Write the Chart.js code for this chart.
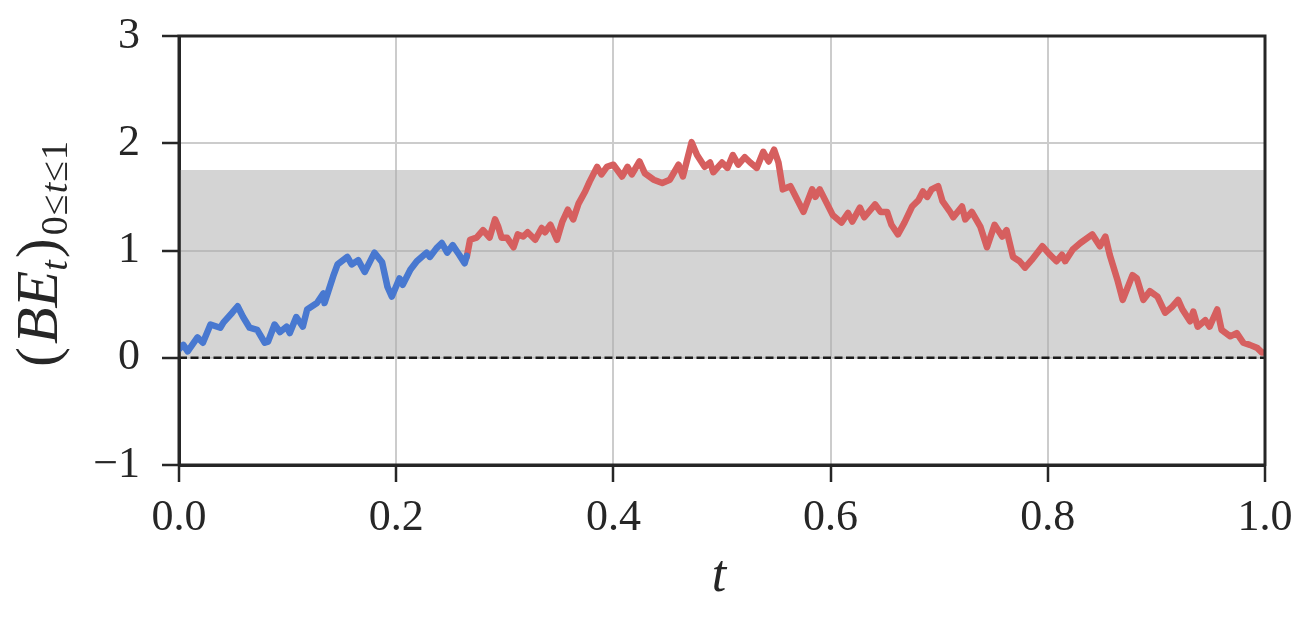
<!DOCTYPE html>
<html>
<head>
<meta charset="utf-8">
<script src="https://cdn.jsdelivr.net/npm/chart.js@4.4.0/dist/chart.umd.min.js"></script>
<style>
  html, body { margin: 0; padding: 0; background: #fff; }
  #wrap { width: 1311px; height: 622px; }
</style>
</head>
<body>
<div id="wrap"><canvas id="chart" width="1311" height="622"></canvas></div>
<script>
// trecho azul do caminho (t, valor)
const tBlue = [0.000, 0.004, 0.008, 0.017, 0.022, 0.029, 0.038, 0.041, 0.049, 0.054, 0.059, 0.065, 0.072, 0.079, 0.082,
  0.088, 0.093, 0.099, 0.102, 0.108, 0.114, 0.118, 0.127, 0.133, 0.134, 0.142, 0.146, 0.155, 0.159, 0.165, 0.171,
  0.180, 0.187, 0.192, 0.196, 0.203, 0.206, 0.213, 0.219, 0.228, 0.231, 0.237, 0.242, 0.247, 0.252, 0.258, 0.263, 0.265];
const vBlue = [0.08, 0.12, 0.06, 0.19, 0.14, 0.31, 0.28, 0.33, 0.42, 0.48, 0.38, 0.28, 0.26, 0.14, 0.15,
  0.31, 0.24, 0.29, 0.23, 0.38, 0.29, 0.45, 0.51, 0.60, 0.51, 0.76, 0.87, 0.94, 0.87, 0.91, 0.80,
  0.98, 0.89, 0.66, 0.57, 0.74, 0.68, 0.82, 0.90, 0.98, 0.94, 1.02, 1.07, 0.98, 1.05, 0.96, 0.88, 0.95];

// trecho vermelho do caminho
const tRed = [0.265, 0.268, 0.274, 0.280, 0.286, 0.291, 0.294, 0.297, 0.302, 0.308, 0.312, 0.317, 0.321, 0.328, 0.334, 0.337,
  0.342, 0.348, 0.353, 0.358, 0.363, 0.368, 0.374, 0.378, 0.385, 0.389, 0.394, 0.400, 0.408, 0.413, 0.417, 0.424, 0.429,
  0.437, 0.445, 0.452, 0.460, 0.464, 0.468, 0.472, 0.477, 0.484, 0.489, 0.492, 0.500, 0.505, 0.510, 0.515, 0.521,
  0.526, 0.532, 0.538, 0.543, 0.548, 0.552, 0.556, 0.563, 0.567, 0.575, 0.583, 0.586, 0.590, 0.597, 0.602, 0.610,
  0.616, 0.620, 0.627, 0.631, 0.641, 0.646, 0.652, 0.656, 0.662, 0.668, 0.675, 0.681, 0.685, 0.689, 0.693, 0.699,
  0.703, 0.710, 0.713, 0.721, 0.724, 0.730, 0.738, 0.744, 0.751, 0.758, 0.762, 0.768, 0.774, 0.779, 0.785, 0.795,
  0.802, 0.808, 0.813, 0.816, 0.823, 0.830, 0.841, 0.848, 0.853, 0.857, 0.864, 0.869, 0.878, 0.882, 0.888, 0.894,
  0.901, 0.908, 0.914, 0.920, 0.924, 0.931, 0.934, 0.938, 0.945, 0.949, 0.956, 0.960, 0.968, 0.974, 0.980, 0.986,
  0.993, 0.997, 1.000];
const vRed = [0.94, 1.10, 1.12, 1.19, 1.12, 1.29, 1.22, 1.12, 1.12, 1.03, 1.15, 1.13, 1.17, 1.10, 1.21, 1.17,
  1.24, 1.10, 1.27, 1.38, 1.29, 1.44, 1.55, 1.64, 1.78, 1.71, 1.78, 1.80, 1.69, 1.78, 1.71, 1.83, 1.72,
  1.66, 1.63, 1.66, 1.80, 1.69, 1.85, 2.01, 1.89, 1.78, 1.82, 1.73, 1.82, 1.77, 1.89, 1.80, 1.87,
  1.82, 1.77, 1.92, 1.83, 1.94, 1.82, 1.57, 1.60, 1.52, 1.36, 1.57, 1.50, 1.57, 1.43, 1.33, 1.26,
  1.35, 1.27, 1.40, 1.31, 1.43, 1.36, 1.36, 1.24, 1.15, 1.26, 1.41, 1.47, 1.55, 1.50, 1.57, 1.60,
  1.46, 1.36, 1.31, 1.41, 1.29, 1.36, 1.22, 1.03, 1.24, 1.13, 1.19, 0.94, 0.90, 0.84, 0.91, 1.04,
  0.96, 0.90, 0.96, 0.90, 1.01, 1.07, 1.15, 1.04, 1.13, 0.96, 0.73, 0.54, 0.77, 0.74, 0.54, 0.62,
  0.57, 0.42, 0.47, 0.54, 0.45, 0.34, 0.43, 0.29, 0.35, 0.29, 0.45, 0.26, 0.20, 0.23, 0.14, 0.12,
  0.09, 0.05, 0.05];

// faixa cinza e linha de referencia
const bandTop = 1.75;
const zeroLine = 0;

// ticks dos eixos
const xTicks = [0, 0.2, 0.4, 0.6, 0.8, 1.0];
const yTicks = [-1, 0, 1, 2, 3];

const serif = '"Liberation Serif", "Times New Roman", serif';
const ink = '#262626';

const toPoints = (ts, vs) => ts.map((t, i) => ({ x: t, y: vs[i] }));

// moldura completa por cima das linhas
const frame = {
  id: 'frame',
  afterDatasetsDraw(chart) {
    const { ctx, chartArea: a } = chart;
    ctx.save();
    ctx.strokeStyle = ink;
    ctx.lineWidth = 3;
    ctx.strokeRect(a.left, a.top, a.right - a.left, a.bottom - a.top);
    ctx.restore();
  }
};

// rotulos dos eixos (com subscritos)
const axisLabels = {
  id: 'axisLabels',
  afterDraw(chart) {
    const ctx = chart.ctx;
    ctx.save();
    ctx.fillStyle = ink;
    ctx.textBaseline = 'alphabetic';
    ctx.textAlign = 'center';
    ctx.font = 'italic 52px ' + serif;
    ctx.fillText('t', 719, 591);

    // rotulo vertical: (BE_t)_{0<=t<=1}, escrito pedaco a pedaco
    const big = 60, small = 38, low = 10;
    const pieces = [
      ['(', '', big, 0, 3],
      ['BE', 'italic ', big, 0, 0],
      ['t', 'italic ', small, low, 2],
      [')', '', big, 0, 3],
      ['0', '', small, low, 1],
      ['\u2264', '', small, low, 1],
      ['t', 'italic ', small, low, 1],
      ['\u2264', '', small, low, 1],
      ['1', '', small, low, 0]
    ];
    let total = 0;
    const widths = pieces.map(([txt, style, size, dy, gap]) => {
      ctx.font = style + size + 'px ' + serif;
      const w = ctx.measureText(txt).width;
      total += w + gap;
      return w;
    });
    ctx.translate(57, 254);
    ctx.rotate(-Math.PI / 2);
    ctx.textAlign = 'left';
    let pos = -total / 2;
    pieces.forEach(([txt, style, size, dy, gap], i) => {
      ctx.font = style + size + 'px ' + serif;
      ctx.fillText(txt, pos, dy);
      pos += widths[i] + gap;
    });
    ctx.restore();
  }
};

new Chart(document.getElementById('chart'), {
  type: 'line',
  data: {
    datasets: [
      {
        data: toPoints(tBlue, vBlue),
        borderColor: '#4878d0',
        borderWidth: 6.5,
        pointRadius: 0,
        borderJoinStyle: 'round',
        borderCapStyle: 'round',
        tension: 0
      },
      {
        data: toPoints(tRed, vRed),
        borderColor: '#d65f5f',
        borderWidth: 6.5,
        pointRadius: 0,
        borderJoinStyle: 'round',
        borderCapStyle: 'round',
        tension: 0
      },
      {
        data: [{ x: 0, y: zeroLine }, { x: 1, y: zeroLine }],
        borderColor: '#1a1a1a',
        borderWidth: 2.5,
        borderDash: [8, 3.5],
        pointRadius: 0
      },
      {
        data: [{ x: 0, y: bandTop }, { x: 1, y: bandTop }],
        borderWidth: 0,
        pointRadius: 0,
        fill: 'origin',
        backgroundColor: 'rgba(169,169,169,0.5)'
      }
    ]
  },
  options: {
    responsive: false,
    animation: false,
    events: [],
    layout: { padding: { top: 36, right: 46, left: 0, bottom: 0 } },
    plugins: { legend: { display: false }, tooltip: { enabled: false } },
    scales: {
      x: {
        type: 'linear',
        min: 0,
        max: 1,
        afterBuildTicks: s => { s.ticks = xTicks.map(v => ({ value: v })); },
        afterFit: s => { s.height = 157; s.paddingLeft = 0; s.paddingRight = 0; },
        grid: { color: '#cccccc', lineWidth: 2, tickLength: 17, tickColor: ink, tickWidth: 2.5 },
        border: { color: ink, width: 3 },
        ticks: {
          padding: 10,
          color: ink,
          font: { family: serif, size: 44 },
          maxRotation: 0,
          callback: v => v.toFixed(1)
        }
      },
      y: {
        min: -1,
        max: 3,
        afterBuildTicks: s => { s.ticks = yTicks.map(v => ({ value: v })); },
        afterFit: s => { s.width = 179; s.paddingTop = 0; s.paddingBottom = 0; },
        grid: { color: '#cccccc', lineWidth: 2, tickLength: 17, tickColor: ink, tickWidth: 2.5 },
        border: { color: ink, width: 3 },
        ticks: {
          padding: 22,
          color: ink,
          font: { family: serif, size: 44 },
          callback: v => (v < 0 ? '\u2212' + Math.abs(v) : String(v))
        }
      }
    }
  },
  plugins: [frame, axisLabels]
});
</script>
</body>
</html>
